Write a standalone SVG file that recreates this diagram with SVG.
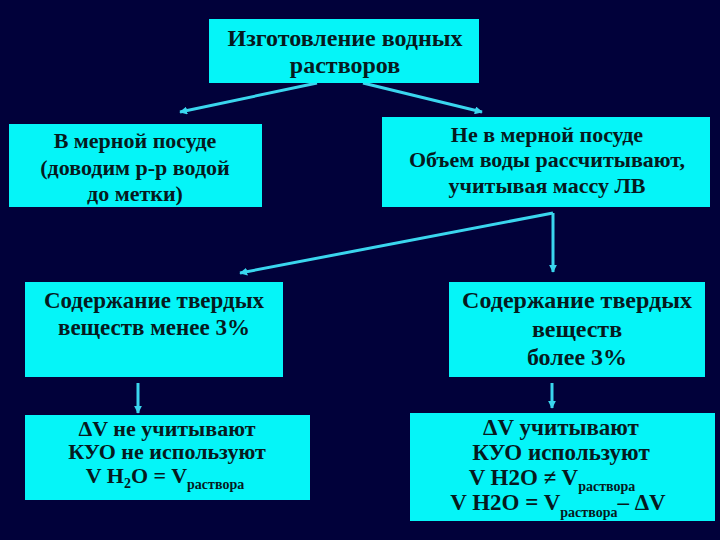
<svg xmlns="http://www.w3.org/2000/svg" width="720" height="540" viewBox="0 0 720 540">
<defs>
<style>
.bg{fill:#01013a}
.box{fill:#05f5f8}
.t{font-family:"Liberation Serif","Times New Roman",serif;font-weight:bold;font-size:22px;fill:#061a1e;text-anchor:middle}
.t24{font-size:24px}
.t23{font-size:23px}
.sub{font-size:14px}
.con{stroke:#3ad6ee;stroke-width:3;fill:none;marker-end:url(#ah)}
</style>
<marker id="ah" viewBox="0 0 10 10" refX="9" refY="5" markerWidth="8" markerHeight="8" markerUnits="userSpaceOnUse" orient="auto">
<path d="M0,0 L10,5 L0,10 z" fill="#3ad6ee"/>
</marker>
</defs>
<rect class="bg" x="0" y="0" width="720" height="540"/>

<g id="connectors">
<line class="con" x1="317" y1="83" x2="180" y2="112"/>
<line class="con" x1="363" y1="83" x2="482" y2="112"/>
<line class="con" x1="553" y1="213" x2="240" y2="273"/>
<line class="con" x1="553" y1="213" x2="553" y2="272"/>
<line class="con" x1="138" y1="383" x2="138" y2="413"/>
<line class="con" x1="552" y1="383" x2="552" y2="408"/>
</g>

<g id="n-top">
<rect class="box" x="209" y="19" width="270" height="64"/>
<text class="t t24" x="345" y="46">Изготовление водных</text>
<text class="t t24" x="345" y="73">растворов</text>
</g>

<g id="n-measured">
<rect class="box" x="9" y="124" width="253" height="83"/>
<text class="t" x="135" y="148">В мерной посуде</text>
<text class="t" x="135" y="175">(доводим р-р водой</text>
<text class="t" x="135" y="201">до метки)</text>
</g>

<g id="n-notmeasured">
<rect class="box" x="382" y="117" width="328" height="90"/>
<text class="t" x="547" y="142">Не в мерной посуде</text>
<text class="t" x="547" y="167">Объем воды рассчитывают,</text>
<text class="t" x="547" y="193">учитывая массу ЛВ</text>
</g>

<g id="n-less3">
<rect class="box" x="25" y="282" width="258" height="95"/>
<text class="t t23" x="154" y="308">Содержание твердых</text>
<text class="t t23" x="154" y="335">веществ менее 3%</text>
</g>

<g id="n-more3">
<rect class="box" x="449" y="282" width="256" height="95"/>
<text class="t t24" x="577" y="308">Содержание твердых</text>
<text class="t t24" x="577" y="337">веществ</text>
<text class="t t24" x="577" y="365">более 3%</text>
</g>

<g id="n-noDV">
<rect class="box" x="25" y="415" width="285" height="85"/>
<text class="t" x="167" y="436">ΔV не учитывают</text>
<text class="t" x="167" y="459">КУО не используют</text>
<text class="t" x="165" y="483">V H<tspan class="sub" dy="5">2</tspan><tspan dy="-5">O = V</tspan><tspan class="sub" dy="6">раствора</tspan></text>
</g>

<g id="n-DV">
<rect class="box" x="410" y="413" width="305" height="108"/>
<text class="t t23" x="561" y="435">ΔV учитывают</text>
<text class="t t23" x="561" y="460">КУО используют</text>
<text class="t t23" x="552" y="485">V H2O ≠ V<tspan class="sub" dy="6">раствора</tspan></text>
<text class="t t23" x="558" y="510">V H2O = V<tspan class="sub" dy="7">раствора</tspan><tspan dy="-7">– ΔV</tspan></text>
</g>
</svg>
